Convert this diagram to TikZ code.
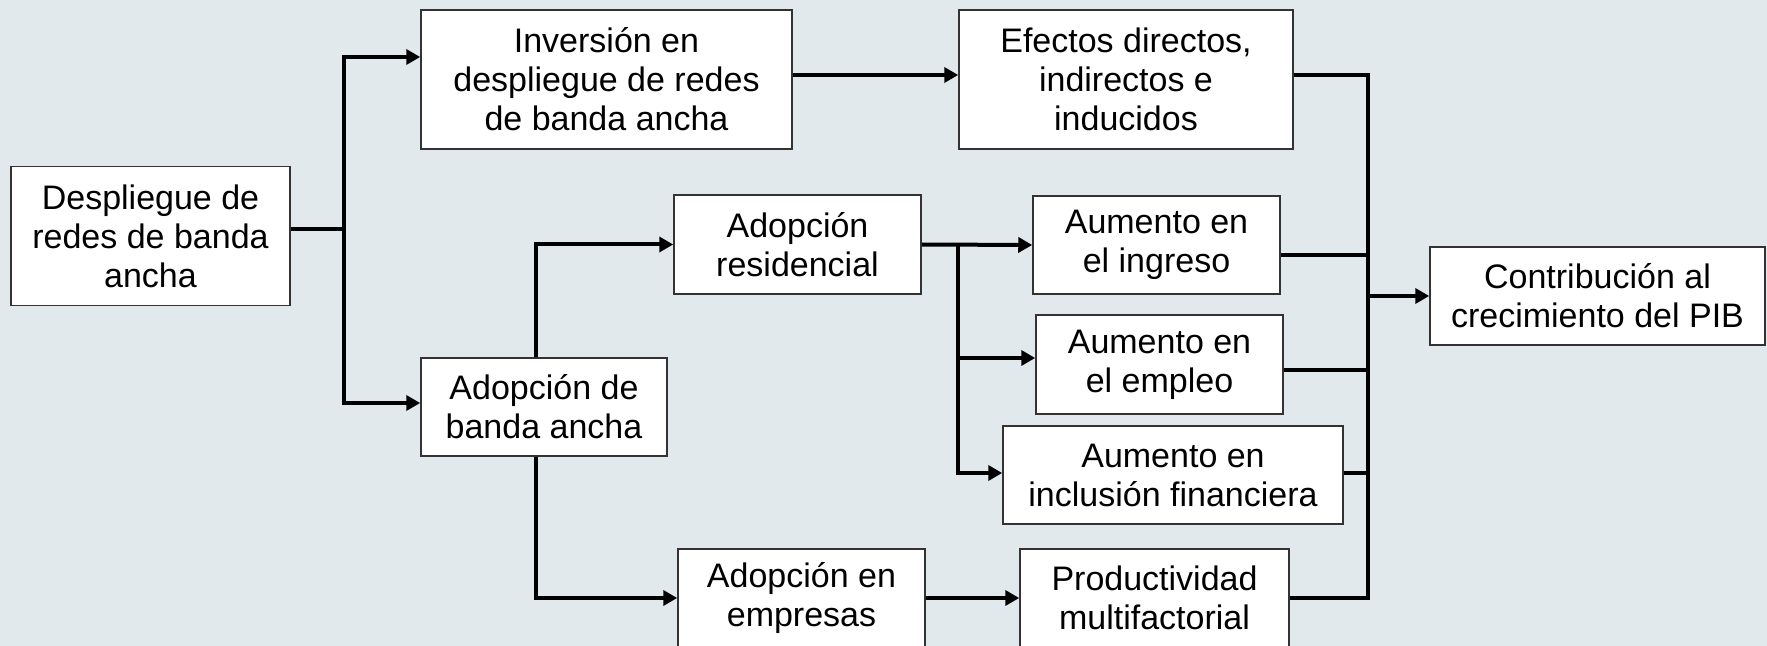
\documentclass[tikz,border=0pt]{standalone}
\usepackage{fontspec}
\setmainfont{Liberation Sans}
\usetikzlibrary{arrows.meta}
\definecolor{fondo}{HTML}{E1E9EC}
\definecolor{borde}{HTML}{333333}
\tikzset{
  caja/.style={draw=borde, line width=0.75pt, fill=white, align=center, inner sep=0pt,
    font=\fontsize{17}{19.5}\selectfont},
  conn/.style={line width=2pt},
  flecha/.style={conn, -{Triangle[length=7pt,width=7.5pt]}},
}
\begin{document}
\begin{tikzpicture}[x=0.5pt,y=-0.5pt]
		\fill[fondo] (0,0) rectangle (1767,646);
		\useasboundingbox (0,0) rectangle (1767,646);
		
		% cajas
		\node[caja, minimum width=139.5pt, minimum height=69.5pt] (desp) at (150.5,236) {Despliegue de\\redes de banda\\ancha};
		\node[caja, minimum width=185.5pt, minimum height=69.5pt] (inv) at (606.5,79.5) {Inversión en\\despliegue de redes\\de banda ancha};
		\node[caja, minimum width=167pt, minimum height=69.5pt] (efec) at (1126,79.5) {Efectos directos,\\indirectos e\\inducidos};
		\node[caja, minimum width=123.5pt, minimum height=49.5pt] (res) at (797.5,244.5) {Adopción\\residencial};
		\node[caja, minimum width=123.5pt, minimum height=49pt] (ingr) at (1156.5,245) {Aumento en\\el ingreso};
		\node[caja, minimum width=123.5pt, minimum height=49.5pt] (empl) at (1159.5,364.5) {Aumento en\\el empleo};
		\node[caja, minimum width=170pt, minimum height=49pt] (incl) at (1173,475) {Aumento en\\inclusión financiera};
		\node[caja, minimum width=123pt, minimum height=49pt] (aba) at (544,407) {Adopción de\\banda ancha};
		\node[caja, minimum width=123.5pt, minimum height=49pt] (emp) at (801.5,598) {Adopción en\\empresas};
		\node[caja, minimum width=134.5pt, minimum height=49pt] (prod) at (1154.5,598) {Productividad\\multifactorial};
		\node[caja, minimum width=167.5pt, minimum height=49pt] (contr) at (1597.5,296) {Contribución al\\crecimiento del PIB};
		
		% puntos de union
		\coordinate (j1) at (344,229);
		\coordinate (j2) at (958,244.5);
		\coordinate (b1) at (1368,255);
		\coordinate (b2) at (1368,370);
		\coordinate (b3) at (1368,473);
		\coordinate (b4) at (1368,296);
		\coordinate (bb) at (1368,598);
		
		% conectores
		\draw[conn] ([yshift=3.5pt]desp.east) -- (j1);
		\draw[flecha] (j1) |- ([yshift=11.25pt]inv.west);
		\draw[flecha] (j1) |- ([yshift=2pt]aba.west);
		\draw[flecha] ([yshift=2.25pt]inv.east) -- ([yshift=2.25pt]efec.west);
		\draw[flecha] ([xshift=-4pt]aba.north) |- (res.west);
		\draw[flecha] ([xshift=-4pt]aba.south) |- (emp.west);
		\draw[flecha] (emp.east) -- (prod.west);
		\draw[flecha] (res.east) -- (ingr.west);
		\draw[flecha] (j2) |- ([yshift=3.25pt]empl.west);
		\draw[flecha] (j2) |- ([yshift=1pt]incl.west);
		
		% barra de salida
		\draw[conn] ([yshift=2.25pt]efec.east) -| (bb) -- (prod.east);
		\draw[conn] ([yshift=-5pt]ingr.east) -- (b1);
		\draw[conn] ([yshift=-2.75pt]empl.east) -- (b2);
		\draw[conn] ([yshift=1pt]incl.east) -- (b3);
		\draw[flecha] (b4) -- (contr.west);
\end{tikzpicture}
\end{document}
